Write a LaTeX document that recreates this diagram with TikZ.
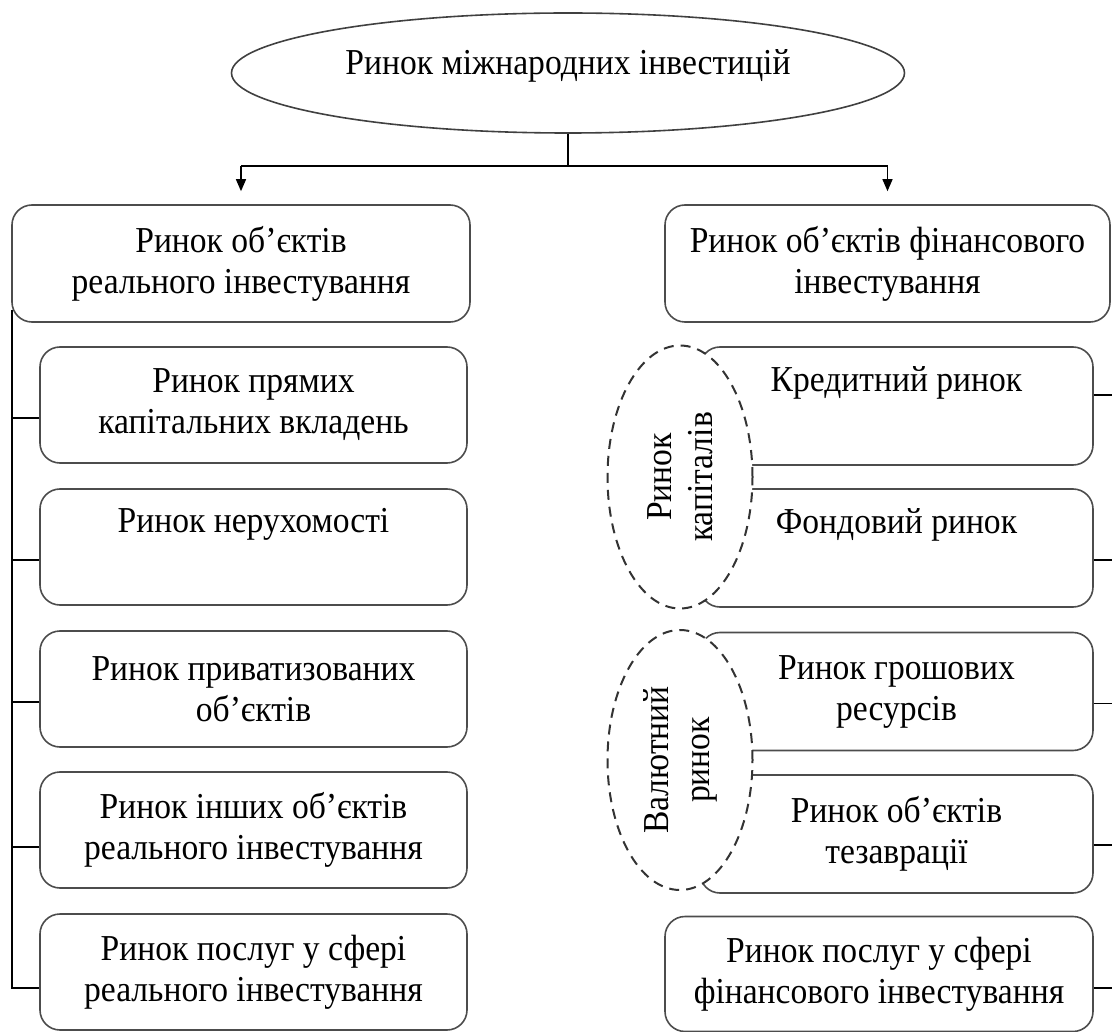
\documentclass[tikz,border=0pt]{standalone}
\usepackage{fontspec}
\setmainfont{Liberation Serif}[FakeStretch=0.92]
\usetikzlibrary{arrows.meta,shapes.geometric}
\begin{document}
\begin{tikzpicture}[x=1pt,y=-1pt,
  every node/.style={font=\fontsize{36.5}{41}\selectfont},
  box/.style={draw=black!70, line width=1.6pt, rounded corners=20pt, align=center, inner sep=0pt},
  oval/.style={draw=black!75, line width=1.6pt, ellipse, inner sep=0pt},
  dov/.style={draw=black!80, line width=2pt, dash pattern=on 10pt off 7pt, ellipse, fill=white, inner sep=0pt},
  conn/.style={draw=black, line width=1.4pt},
  arr/.style={conn, -{Triangle[length=12pt,width=10pt]}}]
\useasboundingbox (0,0) rectangle (1112,1032);
% root
\node[oval, minimum width=673pt, minimum height=120pt] (root) at (568,73) {};
\node (roottxt) at (568,66) {Ринок міжнародних інвестицій};
% top level
\node[box, minimum width=458pt, minimum height=117pt] (L) at (241,263.5) {Ринок об’єктів\\реального інвестування};
\node[box, minimum width=445pt, minimum height=117pt] (R) at (887.5,263.5) {Ринок об’єктів фінансового\\інвестування};
% left column
\node[box, minimum width=427pt, minimum height=116pt] (l1) at (253.5,405) {Ринок прямих\\капітальних вкладень};
\node[box, minimum width=427pt, minimum height=116pt] (l2) at (253.5,547) {Ринок нерухомості\\\strut};
\node[box, minimum width=427pt, minimum height=116pt] (l3) at (253.5,689) {Ринок приватизованих\\об’єктів};
\node[box, minimum width=427pt, minimum height=116pt] (l4) at (253.5,830) {Ринок інших об’єктів\\реального інвестування};
\node[box, minimum width=427pt, minimum height=116pt] (l5) at (253.5,972) {Ринок послуг у сфері\\реального інвестування};
% right column
\node[box, minimum width=393pt, minimum height=118pt] (r1) at (896.5,406) {Кредитний ринок\\\strut};
\node[box, minimum width=393pt, minimum height=118pt] (r2) at (896.5,548) {Фондовий ринок\\\strut};
\node[box, minimum width=393pt, minimum height=118pt] (r3) at (896.5,691.5) {Ринок грошових\\ресурсів};
\node[box, minimum width=393pt, minimum height=118pt] (r4) at (896.5,834) {Ринок об’єктів\\тезаврації};
\node[box, minimum width=428pt, minimum height=115pt] (r5) at (879,974) {Ринок послуг у сфері\\фінансового інвестування};
% dashed ellipses
\node[dov, minimum width=145pt, minimum height=263pt] (e1) at (680,477) {};
\node[rotate=90, align=center] (e1t) at (680,477) {Ринок\\капіталів};
\node[dov, minimum width=145pt, minimum height=260pt] (e2) at (680,760) {};
\node[rotate=90, align=center] (e2t) at (680,760) {Валютний\\ринок};
% connectors from root
\coordinate (hub) at (root.south |- 0,166);
\coordinate (la) at (L.north |- 0,166);
\coordinate (ra) at (R.north |- 0,166);
\draw[conn] (root.south) -- (hub);
\draw[conn] (la) -- (ra);
\draw[arr] (la) -- ([yshift=13pt]L.north);
\draw[arr] (ra) -- ([yshift=13pt]R.north);
% left bracket
\coordinate (ltop) at (12,310);
\coordinate (lbot) at (12,988);
\draw[conn] (ltop) -- (lbot) -- ([yshift=-16pt]l5.west);
\draw[conn] ([yshift=-13pt]l1.west) -- ([yshift=-13pt]l1.west -| ltop);
\draw[conn] ([yshift=-13pt]l2.west) -- ([yshift=-13pt]l2.west -| ltop);
\draw[conn] ([yshift=-13pt]l3.west) -- ([yshift=-13pt]l3.west -| ltop);
\draw[conn] ([yshift=-17pt]l4.west) -- ([yshift=-17pt]l4.west -| ltop);
% right ticks
\coordinate (redge) at (1112,0);
\draw[conn] ([yshift=11pt]r1.east) -- ([yshift=11pt]r1.east -| redge);
\draw[conn] ([yshift=-12pt]r2.east) -- ([yshift=-12pt]r2.east -| redge);
\draw[conn] ([yshift=-12pt]r3.east) -- ([yshift=-12pt]r3.east -| redge);
\draw[conn] ([yshift=-11pt]r4.east) -- ([yshift=-11pt]r4.east -| redge);
\draw[conn] ([yshift=-14pt]r5.east) -- ([yshift=-14pt]r5.east -| redge);
\end{tikzpicture}
\end{document}
